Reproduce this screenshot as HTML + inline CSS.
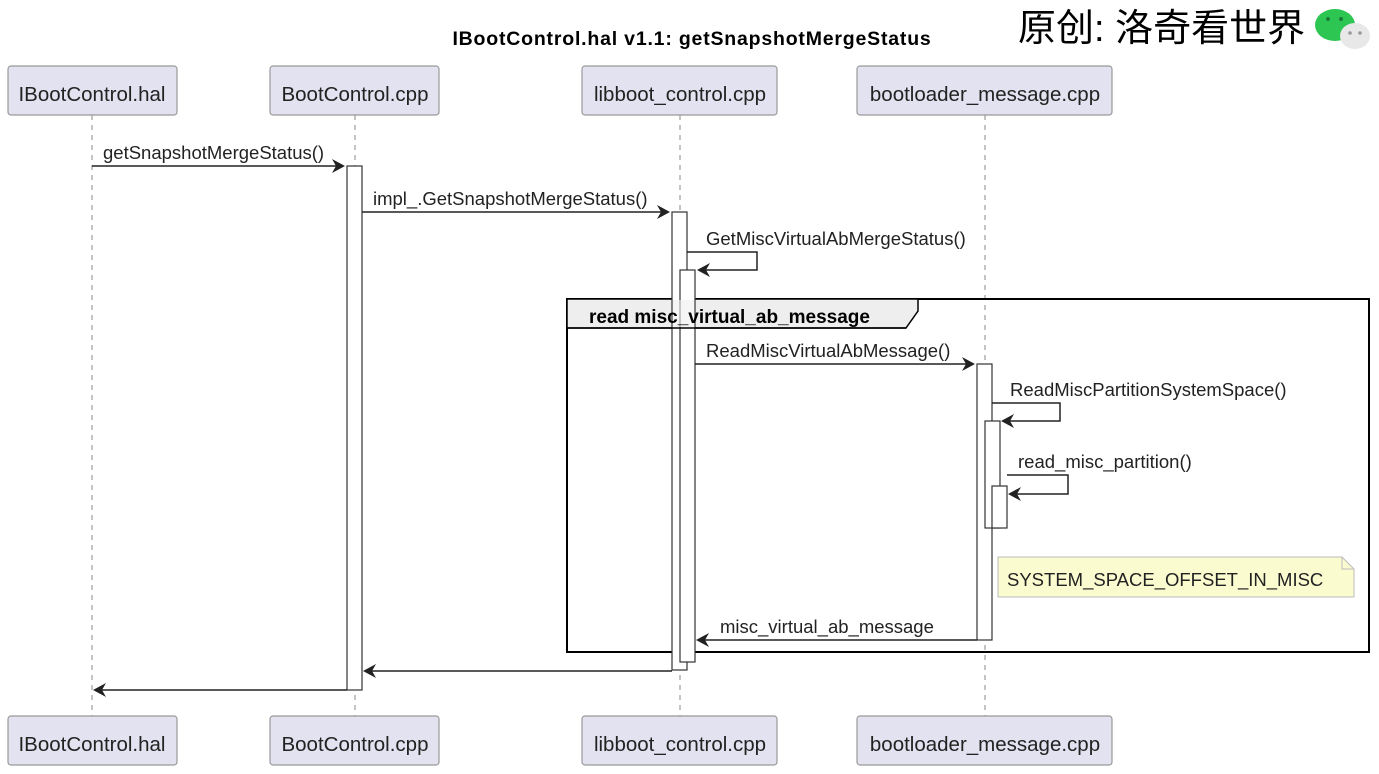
<!DOCTYPE html>
<html><head><meta charset="utf-8"><style>body{margin:0;background:#fff}svg{display:block}</style></head><body>
<svg width="1379" height="774" xmlns="http://www.w3.org/2000/svg" font-family="Liberation Sans, sans-serif">
<rect width="1379" height="774" fill="#fff"/>
<text x="692" y="45" font-size="19.5" font-weight="bold" text-anchor="middle" letter-spacing="0.8">IBootControl.hal v1.1: getSnapshotMergeStatus</text>
<text x="1018" y="41" font-size="38" font-family="Liberation Sans, Noto Sans CJK SC, sans-serif">原创: 洛奇看世界</text>
<ellipse cx="1335" cy="25" rx="20" ry="16" fill="#2dc653"/>
<circle cx="1328" cy="19" r="2" fill="#1a7a35"/><circle cx="1341" cy="19" r="2" fill="#1a7a35"/>
<ellipse cx="1355" cy="36" rx="15" ry="13" fill="#e8e8e8"/>
<circle cx="1350" cy="33" r="1.8" fill="#999"/><circle cx="1360" cy="33" r="1.8" fill="#999"/>
<g stroke="#888" stroke-dasharray="5,5" stroke-width="1">
<line x1="92" y1="115" x2="92" y2="716"/><line x1="355" y1="115" x2="355" y2="716"/>
<line x1="680" y1="115" x2="680" y2="716"/><line x1="985" y1="115" x2="985" y2="716"/>
</g>
<g fill="#e2e2f0" stroke="#999" stroke-width="1.2">
<rect x="8" y="66" width="169" height="49" rx="3"/><rect x="270" y="66" width="169" height="49" rx="3"/>
<rect x="582" y="66" width="195" height="49" rx="3"/><rect x="857" y="66" width="255" height="49" rx="3"/>
<rect x="8" y="716" width="169" height="49" rx="3"/><rect x="270" y="716" width="169" height="49" rx="3"/>
<rect x="582" y="716" width="195" height="49" rx="3"/><rect x="857" y="716" width="255" height="49" rx="3"/>
</g>
<g font-size="20.5" text-anchor="middle" fill="#222">
<text x="92" y="101">IBootControl.hal</text><text x="355" y="101">BootControl.cpp</text>
<text x="680" y="101">libboot_control.cpp</text><text x="985" y="101">bootloader_message.cpp</text>
<text x="92" y="751">IBootControl.hal</text><text x="355" y="751">BootControl.cpp</text>
<text x="680" y="751">libboot_control.cpp</text><text x="985" y="751">bootloader_message.cpp</text>
</g>
<rect x="567" y="299" width="802" height="353" fill="none" stroke="#000" stroke-width="2"/>
<path d="M567 299 H918 V311 L906 328 H567 Z" fill="#eee" stroke="#000" stroke-width="1.5"/>
<g fill="#fff" stroke="#333" stroke-width="1.2">
<rect x="347" y="166" width="15" height="524"/>
<rect x="672" y="212" width="15" height="458"/>
<rect x="680" y="270" width="15" height="392"/>
<rect x="977" y="364" width="15" height="276"/>
<rect x="985" y="421" width="15" height="107"/>
<rect x="992" y="486" width="15" height="42"/>
</g>
<rect x="673" y="300" width="21" height="27" fill="#eee" opacity="0.6"/>
<line x1="567" y1="328" x2="906" y2="328" stroke="#000" stroke-width="1.5"/>
<text x="589" y="323" font-size="19" font-weight="bold">read misc_virtual_ab_message</text>
<g stroke="#222" stroke-width="1.5" fill="none">
<line x1="92" y1="166" x2="340" y2="166"/>
<line x1="362" y1="212" x2="665" y2="212"/>
<path d="M687 252 H757 V270 H700"/>
<line x1="695" y1="364" x2="970" y2="364"/>
<path d="M992 403 H1060 V421 H1005"/>
<path d="M1007 475 H1068 V494 H1012"/>
<line x1="977" y1="640" x2="700" y2="640"/>
<line x1="672" y1="671" x2="367" y2="671"/>
<line x1="347" y1="690" x2="97" y2="690"/>
</g>
<g fill="#222">
<path d="M345 166 L332 159 L336 166 L332 173 Z"/>
<path d="M670 212 L657 205 L661 212 L657 219 Z"/>
<path d="M697 270 L710 263 L706 270 L710 277 Z"/>
<path d="M975 364 L962 357 L966 364 L962 371 Z"/>
<path d="M1001 421 L1014 414 L1010 421 L1014 428 Z"/>
<path d="M1008 494 L1021 487 L1017 494 L1021 501 Z"/>
<path d="M696 640 L709 633 L705 640 L709 647 Z"/>
<path d="M363 671 L376 664 L372 671 L376 678 Z"/>
<path d="M93 690 L106 683 L102 690 L106 697 Z"/>
</g>
<g font-size="18.5" fill="#222">
<text x="103" y="159">getSnapshotMergeStatus()</text>
<text x="373" y="205">impl_.GetSnapshotMergeStatus()</text>
<text x="706" y="245">GetMiscVirtualAbMergeStatus()</text>
<text x="706" y="357">ReadMiscVirtualAbMessage()</text>
<text x="1010" y="396">ReadMiscPartitionSystemSpace()</text>
<text x="1018" y="468">read_misc_partition()</text>
<text x="720" y="633">misc_virtual_ab_message</text>
</g>
<path d="M998 557 H1342 L1354 569 V597 H998 Z" fill="#fbfbd0" stroke="#bbb" stroke-width="1"/>
<path d="M1342 557 V569 H1354" fill="none" stroke="#bbb"/>
<text x="1007" y="586" font-size="18.5" fill="#222">SYSTEM_SPACE_OFFSET_IN_MISC</text>
</svg>
</body></html>
